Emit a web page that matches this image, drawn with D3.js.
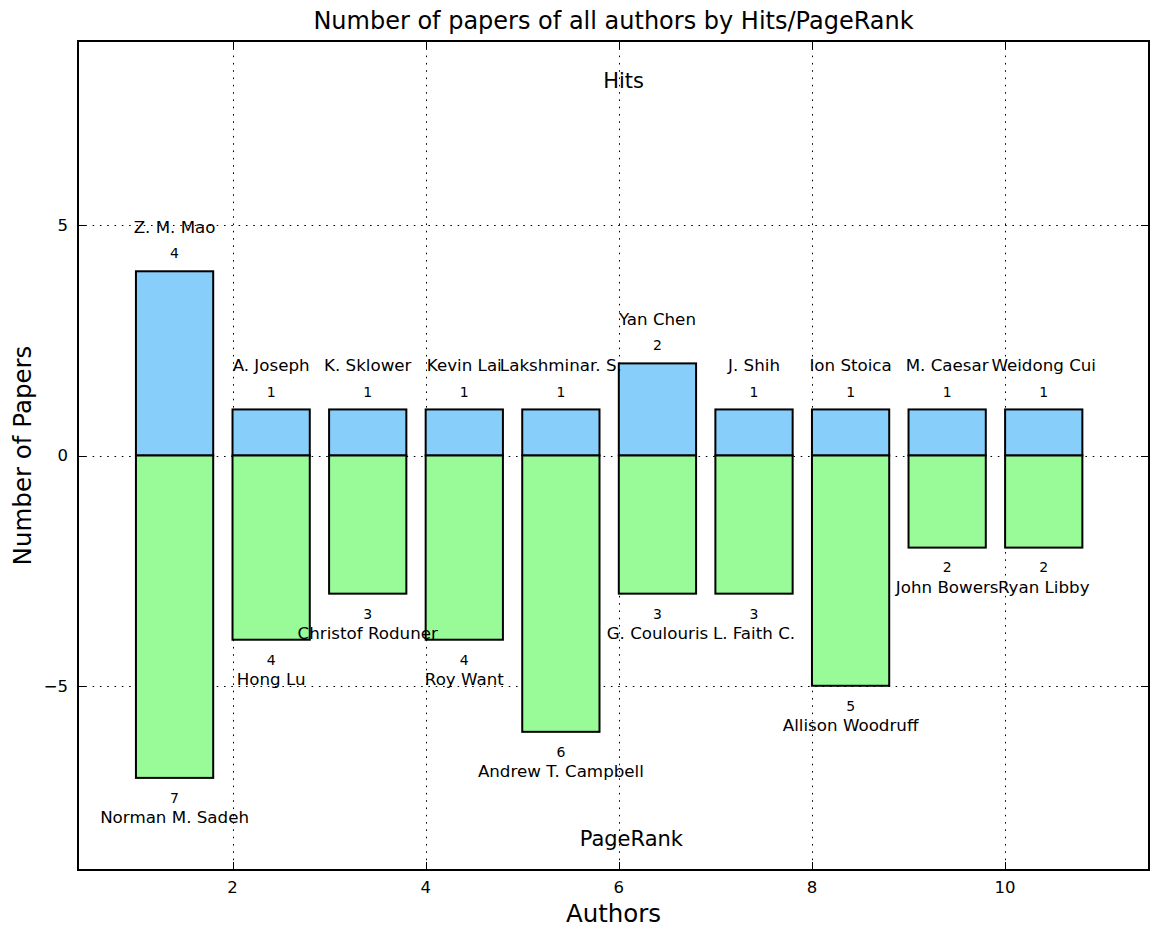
<!DOCTYPE html>
<html>
<head>
<meta charset="utf-8">
<script src="https://cdn.jsdelivr.net/npm/d3@7"></script>
<style>
  html, body { margin: 0; padding: 0; background: #fff; }
  svg { display: block; font-family: "DejaVu Sans", sans-serif; }
</style>
</head>
<body>
<svg id="chart" width="1156" height="931"></svg>
<script>
// Author slots along the x axis (bar left edges)
const positions = [1, 2, 3, 4, 5, 6, 7, 8, 9, 10];
// Top authors by Hits score and their paper counts
const hitsAuthors = ["Z. M. Mao", "A. Joseph", "K. Sklower", "Kevin Lai", "Lakshminar. S.",
                     "Yan Chen", "J. Shih", "Ion Stoica", "M. Caesar", "Weidong Cui"];
const hitsPapers = [4, 1, 1, 1, 1, 2, 1, 1, 1, 1];
// Top authors by PageRank score and their paper counts (drawn downward)
const prAuthors = ["Norman M. Sadeh", "Hong Lu", "Christof Roduner", "Roy Want", "Andrew T. Campbell",
                   "G. Coulouris", "L. Faith C.", "Allison Woodruff", "John Bowers", "Ryan Libby"];
const prPapers = [7, 4, 3, 4, 6, 3, 3, 5, 2, 2];
// Axis ticks
const xTicks = [2, 4, 6, 8, 10];
const yTicks = [-5, 0, 5];

const barWidth = 0.8;
const svg = d3.select("#chart");
const margin = { left: 78, right: 1149, top: 41, bottom: 870 };

const x = d3.scaleLinear().domain([0.4, 11.49]).range([margin.left, margin.right]);
const y = d3.scaleLinear().domain([-9, 9]).range([margin.bottom, margin.top]);

const rows = positions.map((p, i) => ({
  pos: p, hits: hitsPapers[i], pr: prPapers[i], hName: hitsAuthors[i], pName: prAuthors[i]
}));

// Dotted grid
const grid = svg.append("g").attr("stroke", "#000").attr("stroke-width", 1)
  .attr("stroke-dasharray", "1.6,5.7");
grid.selectAll("line.gx").data(xTicks).join("line")
  .attr("x1", d => Math.round(x(d)) + 0.5).attr("x2", d => Math.round(x(d)) + 0.5)
  .attr("y1", margin.top).attr("y2", margin.bottom);
grid.selectAll("line.gy").data(yTicks).join("line")
  .attr("y1", d => Math.round(y(d)) + 0.5).attr("y2", d => Math.round(y(d)) + 0.5)
  .attr("x1", margin.left).attr("x2", margin.right);

// Bars
const bars = svg.append("g").attr("stroke", "#000").attr("stroke-width", 2);
bars.selectAll("rect.hits").data(rows).join("rect")
  .attr("fill", "#87CEFA")
  .attr("x", d => x(d.pos)).attr("width", d => x(d.pos + barWidth) - x(d.pos))
  .attr("y", d => y(d.hits)).attr("height", d => y(0) - y(d.hits));
bars.selectAll("rect.pr").data(rows).join("rect")
  .attr("fill", "#98FB98")
  .attr("x", d => x(d.pos)).attr("width", d => x(d.pos + barWidth) - x(d.pos))
  .attr("y", y(0)).attr("height", d => y(-d.pr) - y(0));

// Bar annotations
const ann = svg.append("g").attr("text-anchor", "middle").attr("fill", "#000");
ann.selectAll("text.hv").data(rows).join("text")
  .attr("x", d => x(d.pos + barWidth / 2)).attr("y", d => y(d.hits + 0.28))
  .attr("font-size", 14).text(d => d.hits);
ann.selectAll("text.hn").data(rows).join("text")
  .attr("x", d => x(d.pos + barWidth / 2)).attr("y", d => y(d.hits + 0.83))
  .attr("font-size", 16.7).text(d => d.hName);
ann.selectAll("text.pv").data(rows).join("text")
  .attr("x", d => x(d.pos + barWidth / 2)).attr("y", d => y(-d.pr - 0.54))
  .attr("font-size", 14).text(d => d.pr);
ann.selectAll("text.pn").data(rows).join("text")
  .attr("x", d => x(d.pos + barWidth / 2)).attr("y", d => y(-d.pr - 0.99))
  .attr("font-size", 16.7).text(d => d.pName);

// Section captions
svg.append("text").attr("x", x(6.05)).attr("y", y(7.98)).attr("text-anchor", "middle")
  .attr("font-size", 21).text("Hits");
svg.append("text").attr("x", x(6.13)).attr("y", y(-8.48)).attr("text-anchor", "middle")
  .attr("font-size", 21).text("PageRank");

// Frame
svg.append("rect").attr("x", margin.left).attr("y", margin.top)
  .attr("width", margin.right - margin.left).attr("height", margin.bottom - margin.top)
  .attr("fill", "none").attr("stroke", "#000").attr("stroke-width", 2);

// Inward ticks on all four sides
const tickLen = 8;
const ticks = svg.append("g").attr("stroke", "#000").attr("stroke-width", 1);
xTicks.forEach(t => {
  const px = Math.round(x(t)) + 0.5;
  ticks.append("line").attr("x1", px).attr("x2", px).attr("y1", margin.bottom).attr("y2", margin.bottom - tickLen);
  ticks.append("line").attr("x1", px).attr("x2", px).attr("y1", margin.top).attr("y2", margin.top + tickLen);
});
yTicks.forEach(t => {
  const py = Math.round(y(t)) + 0.5;
  ticks.append("line").attr("y1", py).attr("y2", py).attr("x1", margin.left).attr("x2", margin.left + tickLen);
  ticks.append("line").attr("y1", py).attr("y2", py).attr("x1", margin.right).attr("x2", margin.right - tickLen);
});

// Tick labels
svg.append("g").selectAll("text").data(xTicks).join("text")
  .attr("x", d => x(d)).attr("y", margin.bottom + 23).attr("text-anchor", "middle")
  .attr("font-size", 16.5).text(d => d3.format("d")(d));
svg.append("g").selectAll("text").data(yTicks).join("text")
  .attr("x", margin.left - 10).attr("y", d => y(d)).attr("dy", "0.35em").attr("text-anchor", "end")
  .attr("font-size", 16.5).text(d => d < 0 ? "\u2212" + Math.abs(d) : String(d));

// Titles
svg.append("text").attr("x", (margin.left + margin.right) / 2).attr("y", 29)
  .attr("text-anchor", "middle").attr("font-size", 24)
  .text("Number of papers of all authors by Hits/PageRank");
svg.append("text").attr("x", (margin.left + margin.right) / 2).attr("y", 922)
  .attr("text-anchor", "middle").attr("font-size", 24.5).text("Authors");
svg.append("text").attr("transform", `translate(31,${(margin.top + margin.bottom) / 2}) rotate(-90)`)
  .attr("text-anchor", "middle").attr("font-size", 24.5).text("Number of Papers");
</script>
</body>
</html>
